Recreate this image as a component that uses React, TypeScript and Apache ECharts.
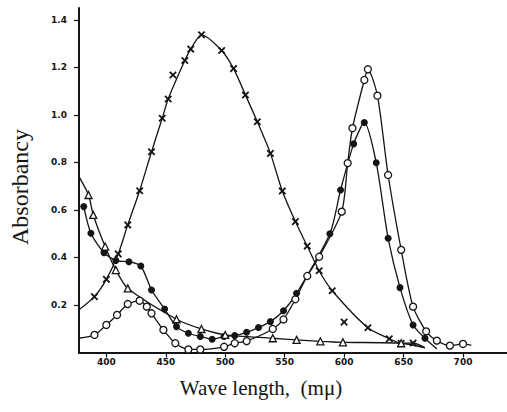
import React, { useEffect, useRef } from "react";
import * as echarts from "echarts";

// Axis ticks
const xTicks = [400, 450, 500, 550, 600, 650, 700];
const yTicks = [0.2, 0.4, 0.6, 0.8, 1.0, 1.2, 1.4];

// × series (markers), with off-curve markers and line-end anchors
const crossNm = [390, 400, 410, 418, 428, 438, 447, 452, 466, 471, 480, 497, 507, 517, 527, 538, 548, 559, 569, 579, 590, 620, 638, 648, 658];
const crossAbs = [0.235, 0.308, 0.415, 0.537, 0.681, 0.845, 0.986, 1.067, 1.229, 1.277, 1.337, 1.271, 1.195, 1.084, 0.971, 0.838, 0.68, 0.551, 0.448, 0.344, 0.26, 0.104, 0.058, 0.039, 0.04];
const crossOffNm = [456, 600];
const crossOffAbs = [1.168, 0.128];
const crossStart = [377, 0.18];
const crossEnd = [668, 0.02];

// ○ series
const openNm = [390, 400, 409, 418, 428, 434, 438, 448, 458, 469, 479, 499, 508, 518, 540, 549, 559, 569, 579, 598, 603, 607, 617, 620, 628, 637, 648, 658, 669, 678, 689, 700];
const openAbs = [0.074, 0.116, 0.158, 0.204, 0.218, 0.193, 0.165, 0.095, 0.039, 0.013, 0.013, 0.024, 0.039, 0.048, 0.099, 0.139, 0.224, 0.322, 0.403, 0.593, 0.797, 0.944, 1.147, 1.192, 1.081, 0.747, 0.432, 0.193, 0.089, 0.05, 0.029, 0.036];
const openStart = [377, 0.06];
const openEnd = [707, 0.03];

// ● series
const fillNm = [381, 387, 398, 408, 419, 429, 438, 449, 459, 469, 479, 489, 499, 508, 518, 528, 538, 549, 560, 588, 597, 608, 617, 627, 637, 647, 658, 668];
const fillAbs = [0.614, 0.502, 0.42, 0.387, 0.382, 0.364, 0.263, 0.183, 0.109, 0.081, 0.067, 0.056, 0.067, 0.071, 0.085, 0.105, 0.13, 0.176, 0.249, 0.5, 0.684, 0.878, 0.968, 0.799, 0.481, 0.273, 0.116, 0.06];
const fillEnd = [678, 0.015];

// △ series
const triNm = [385, 389, 399, 408, 418, 459, 480, 500, 540, 560, 580, 599, 648];
const triAbs = [0.663, 0.579, 0.446, 0.347, 0.27, 0.14, 0.099, 0.074, 0.06, 0.053, 0.047, 0.043, 0.039];
const triStart = [377, 0.74];
const triEnd = [668, 0.02];

const INK = "#141414";
const crossSymbol = "path://M4,0H6V4H10V6H6V10H4V6H0V4H4Z";

const pts = (xs: number[], ys: number[]) => xs.map((x, i) => [x, ys[i]]);

function lineSeries(data: number[][]) {
  return {
    type: "line",
    data,
    smooth: 0.25,
    showSymbol: false,
    symbol: "none",
    lineStyle: { color: INK, width: 1.3 },
    z: 2,
    silent: true,
  };
}

function markerSeries(data: number[][], symbol: string, size: number, fill: string, rotate = 0) {
  return {
    type: "scatter",
    data,
    symbol,
    symbolSize: size,
    symbolRotate: rotate,
    itemStyle: { color: fill, borderColor: INK, borderWidth: fill === INK ? 0 : 1.3, opacity: 1 },
    z: 3,
    silent: true,
  };
}

export default function App() {
  const ref = useRef<HTMLDivElement>(null);
  useEffect(() => {
    if (!ref.current) return;
    const chart = echarts.init(ref.current, null, { renderer: "svg" });
    const crossPts = pts(crossNm, crossAbs);
    const openPts = pts(openNm, openAbs);
    const fillPts = pts(fillNm, fillAbs);
    const triPts = pts(triNm, triAbs);
    chart.setOption({
      animation: false,
      backgroundColor: "#ffffff",
      grid: { left: 79, right: 0, top: 8, bottom: 59.5, containLabel: false, outerBoundsMode: "none" },
      xAxis: {
        type: "value",
        min: 377,
        max: 737,
        splitLine: { show: false },
        axisLine: { lineStyle: { color: INK, width: 2 } },
        axisTick: { customValues: xTicks, length: 5, lineStyle: { color: INK, width: 1.2 } },
        axisLabel: {
          customValues: xTicks,
          color: INK,
          fontSize: 9,
          fontWeight: "bold",
          fontFamily: "DejaVu Sans",
          margin: 5,
        },
      },
      yAxis: {
        type: "value",
        min: 0,
        max: 1.45,
        splitLine: { show: false },
        axisLine: { lineStyle: { color: INK, width: 2 } },
        axisTick: { customValues: yTicks, length: 5, lineStyle: { color: INK, width: 1.2 } },
        axisLabel: {
          customValues: yTicks,
          formatter: (v: number) => v.toFixed(1),
          color: INK,
          fontSize: 9,
          fontWeight: "bold",
          fontFamily: "DejaVu Sans",
          margin: 12,
        },
      },
      graphic: [
        {
          type: "text",
          x: 20,
          y: 187,
          rotation: Math.PI / 2,
          style: {
            text: "Absorbancy",
            fill: INK,
            font: "24px 'Liberation Serif'",
            textAlign: "center",
            textVerticalAlign: "middle",
          },
        },
        {
          type: "text",
          x: 261,
          y: 388,
          style: {
            text: "Wave length,  (mμ)",
            fill: INK,
            font: "21px 'Liberation Serif'",
            textAlign: "center",
            textVerticalAlign: "middle",
          },
        },
      ],
      series: [
        lineSeries([crossStart, ...crossPts, crossEnd]),
        lineSeries([openStart, ...openPts, openEnd]),
        lineSeries([...fillPts, fillEnd]),
        lineSeries([triStart, ...triPts, triEnd]),
        markerSeries([...crossPts, ...pts(crossOffNm, crossOffAbs)], crossSymbol, 9, INK, 45),
        markerSeries(openPts, "circle", 7, "#ffffff"),
        markerSeries(fillPts, "circle", 7, INK),
        markerSeries(triPts, "triangle", 7, "#ffffff"),
      ],
    });
    return () => chart.dispose();
  }, []);
  return (
    <div
      ref={ref}
      style={{ position: "fixed", left: 0, top: 0, width: 507, height: 412, background: "#fff" }}
    />
  );
}
